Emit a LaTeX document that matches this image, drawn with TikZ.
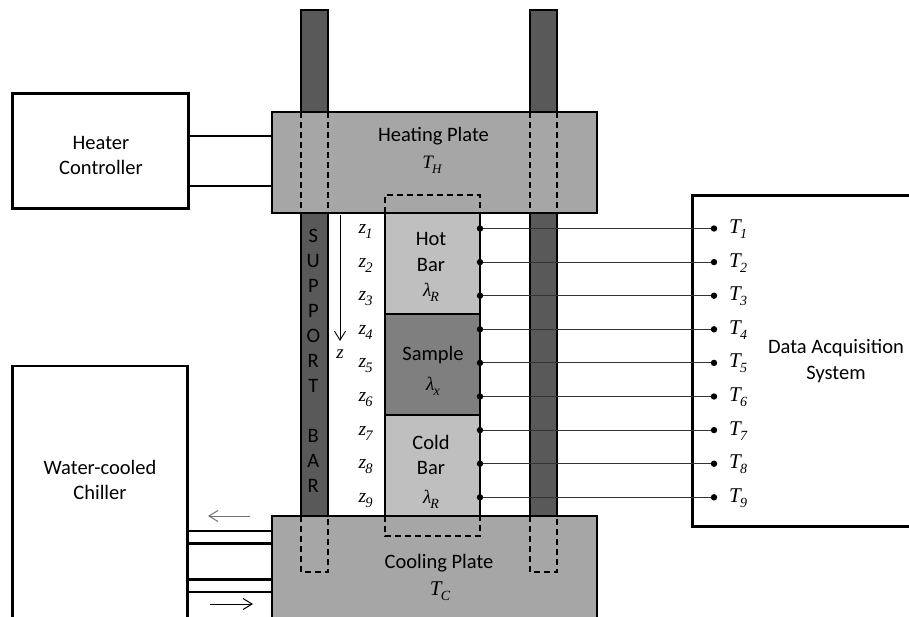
\documentclass[tikz,border=0pt]{standalone}
\usepackage{fontspec}
\setmainfont{Carlito}
\newfontfamily\tms{Liberation Serif}
\usetikzlibrary{arrows.meta}
\definecolor{rodc}{HTML}{595959}
\definecolor{platec}{HTML}{A6A6A6}
\definecolor{barc}{HTML}{BFBFBF}
\definecolor{samc}{HTML}{7F7F7F}
\newcommand\mvar[4][13]{{\fontsize{#2}{#2}\selectfont\tms\itshape #3\kern-0.8pt\raisebox{-5pt}{\fontsize{#1}{#1}\selectfont #4}}}
\begin{document}
\begin{tikzpicture}[x=1pt,y=-1pt,
  thickline/.style={line width=2.8pt},
  boxstyle/.style={draw, line width=2.6pt, inner sep=0pt, outer sep=0pt, anchor=north west},
  lbl/.style={font=\fontsize{20.5}{24.5}\selectfont, inner sep=0pt, anchor=base},
  mlbl/.style={inner sep=0pt, anchor=base},
  dashline/.style={dash pattern=on 6pt off 4pt, line width=1.4pt},
  tcline/.style={line width=1pt, black!80},
  flow/.style={line width=1pt, -{Straight Barb[length=9pt,width=11pt]}},
]
\useasboundingbox (0,0) rectangle (909,616);
\clip (0,0) rectangle (909,616);

% support rods
\node[boxstyle, fill=rodc, minimum width=27pt, minimum height=562pt] (rodL) at (301,10) {};
\node[boxstyle, fill=rodc, minimum width=27pt, minimum height=562pt] (rodR) at (530,10) {};

% plates
\node[boxstyle, fill=platec, minimum width=325pt, minimum height=101pt] (hplate) at (272,112) {};
\node[boxstyle, fill=platec, minimum width=325pt, minimum height=130pt] (cplate) at (272,516) {};

% bars
\node[boxstyle, fill=barc, minimum width=95pt, minimum height=101pt] (hot) at (385,213) {};
\node[boxstyle, fill=samc, minimum width=95pt, minimum height=101pt] (sample) at (385,314) {};
\node[boxstyle, fill=barc, minimum width=95pt, minimum height=101pt] (cold) at (385,415) {};

% dashed hidden outlines in the heating plate
\draw[dashline] (rodL.west |- hplate.north) -- (rodL.west |- hplate.south);
\draw[dashline] (rodL.east |- hplate.north) -- (rodL.east |- hplate.south);
\draw[dashline] (rodR.west |- hplate.north) -- (rodR.west |- hplate.south);
\draw[dashline] (rodR.east |- hplate.north) -- (rodR.east |- hplate.south);
\draw[dashline] (hot.west |- hplate.south) -- ++(0,-18) -| (hot.east |- hplate.south);
% dashed hidden outlines in the cooling plate
\draw[dashline] (rodL.west |- cplate.north) -- ++(0,56) -| (rodL.east |- cplate.north);
\draw[dashline] (rodR.west |- cplate.north) -- ++(0,56) -| (rodR.east |- cplate.north);
\draw[dashline] (cold.west |- cplate.north) -- ++(0,20) -| (cold.east |- cplate.north);

% heater controller
\node[boxstyle, minimum width=175.6pt, minimum height=115pt] (heater) at (12.7,93.3) {};
\node[lbl] (heatertxt1) at (101,149.3) {Heater};
\node[lbl] (heatertxt2) at (101,174.3) {Controller};
\coordinate (hl1) at (heater.east |- 0,136);
\coordinate (hl2) at (heater.east |- 0,186);
\draw[thickline] (hl1) -- (hl1 -| hplate.west);
\draw[thickline] (hl2) -- (hl2 -| hplate.west);

% chiller
\node[boxstyle, minimum width=174.6pt, minimum height=300pt] (chiller) at (12.7,366) {};
\node[lbl] (chtxt1) at (100,474.5) {Water-cooled};
\node[lbl] (chtxt2) at (100,499) {Chiller};
\foreach \yy [count=\k] in {531,543.3,579.3,592}{
  \coordinate (cp\k) at (chiller.east |- 0,\yy);
  \draw[thickline] (cp\k) -- (cp\k -| cplate.west);
}
\coordinate (fa1) at (250,516);
\coordinate (fa2) at (208,516);
\coordinate (fb1) at (210,604);
\coordinate (fb2) at (253,604);
\draw[flow, black!55] (fa1) -- (fa2);
\draw[flow] (fb1) -- (fb2);

% data acquisition
\node[boxstyle, minimum width=300pt, minimum height=331pt] (daq) at (692.3,195.7) {};
\node[lbl] (daqtxt1) at (836,353.3) {Data Acquisition};
\node[lbl] (daqtxt2) at (836,379) {System};

% plate labels
\node[lbl] (hptxt) at (433.5,141.7) {Heating Plate};
\node[mlbl] (th) at (432,168) {\mvar{19}{T}{H}};
\node[lbl] (cptxt) at (439,568.3) {Cooling Plate};
\node[mlbl] (tcl) at (440,595) {\mvar[14]{21}{T}{C}};

% bar labels
\node[lbl] (hottxt1) at (431,245.7) {Hot};
\node[lbl] (hottxt2) at (431,271.7) {Bar};
\node[mlbl] (hotlam) at (431,296) {\mvar[14]{19}{λ}{R}};
\node[lbl] (samtxt) at (433,360.7) {Sample};
\node[mlbl] (samlam) at (433,390.7) {\mvar[14]{19}{λ}{x}};
\node[lbl] (coldtxt1) at (431,449.3) {Cold};
\node[lbl] (coldtxt2) at (431,474) {Bar};
\node[mlbl] (coldlam) at (431,503.3) {\mvar[14]{19}{λ}{R}};

% support bar letters
\foreach \ch/\k in {S/0,U/1,P/2,P/3,O/4,R/5,T/6,B/8,A/9,R/10}{
  \node[lbl] (sb\k) at (313.3,242+25*\k) {\ch};
}

% z direction
\coordinate (zs) at (340,214.5);
\coordinate (ze) at (340,341);
\draw[flow, line width=0.9pt] (zs) -- (ze);
\node[mlbl] (zlbl) at (340,358.3) {{\fontsize{19}{19}\selectfont\tms\itshape z}};

% thermocouples
\foreach \i in {1,...,9}{
  \pgfmathsetmacro\yy{228.5+33.6*(\i-1)}
  \coordinate (tc\i) at (480,\yy);
  \coordinate (td\i) at (714,\yy);
  \draw[tcline] (tc\i) -- (td\i);
  \fill (tc\i) circle (3.2pt);
  \fill (td\i) circle (3.2pt);
  \node[inner sep=0pt, anchor=base west] (T\i) at (729,\yy+5) {\mvar[14]{21}{T}{\i}};
  \node[inner sep=0pt, anchor=base west] (z\i) at (358.3,\yy+5) {\mvar[14.5]{19.5}{z}{\i}};
}
\end{tikzpicture}
\end{document}
